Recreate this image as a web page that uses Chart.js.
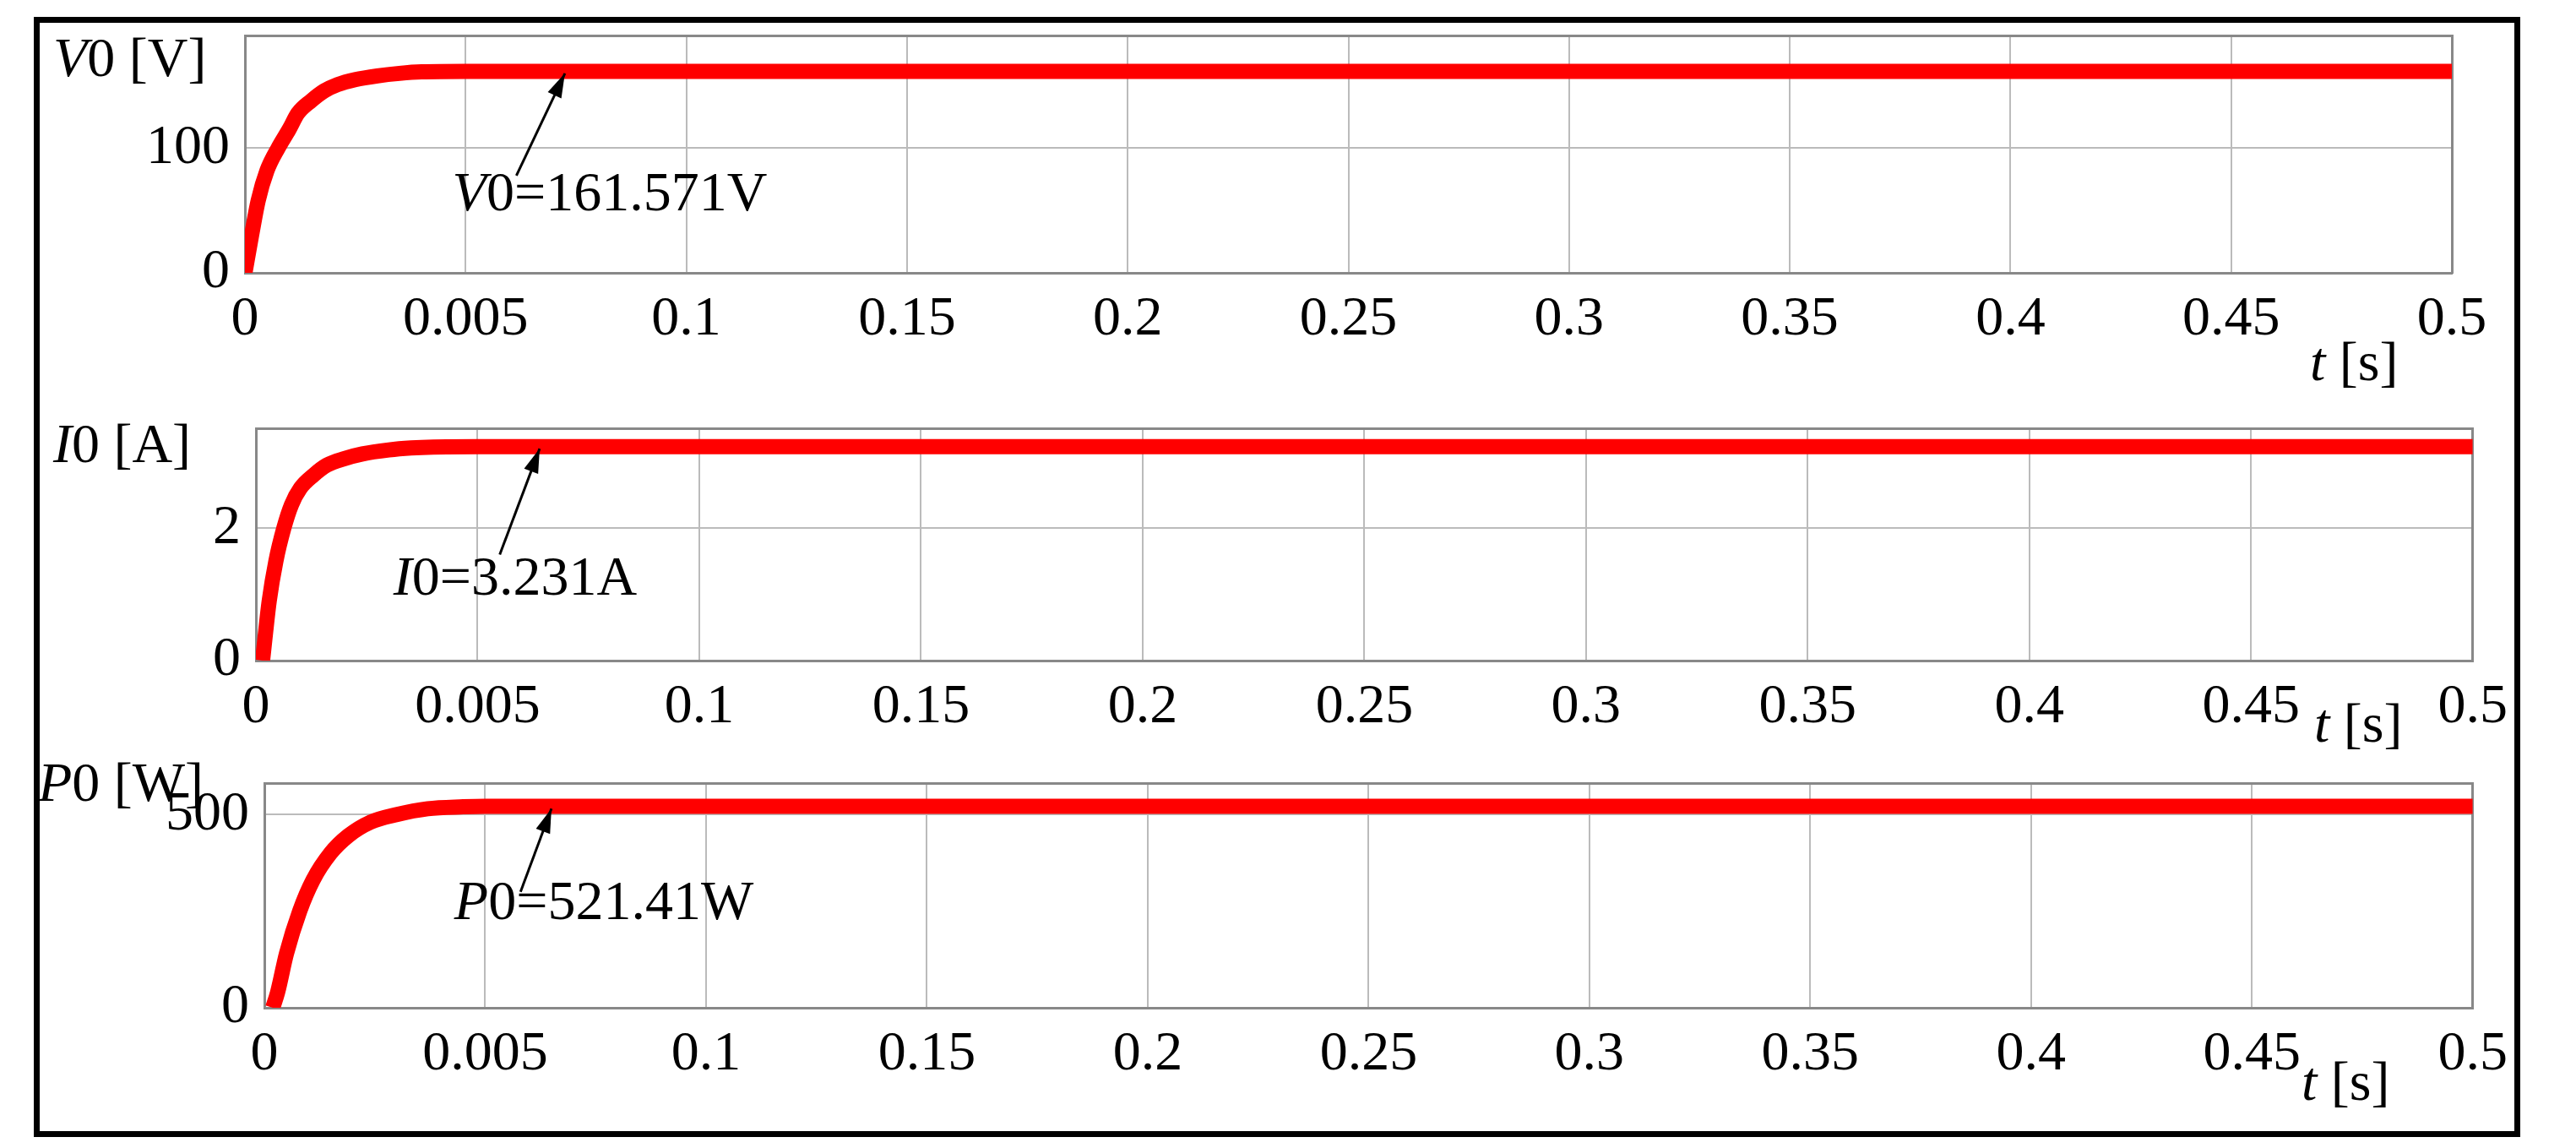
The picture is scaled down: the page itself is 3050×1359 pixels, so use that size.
<!DOCTYPE html>
<html>
<head>
<meta charset="utf-8">
<script src="https://cdn.jsdelivr.net/npm/chart.js@4.4.1/dist/chart.umd.min.js"></script>
<style>
  body { margin: 0; background: #fff; width: 3050px; height: 1359px; overflow: hidden; }
  #frame { position: absolute; left: 40px; top: 20px; width: 2930px; height: 1312px; border: 7px solid #000; }
  .pane { position: absolute; left: 45px; width: 2940px; }
  .pane canvas { width: 100%; height: 100%; }
</style>
</head>
<body>
<div id="frame"></div>
<div class="pane" id="p1" style="top:-15px;height:480px"><canvas id="c1"></canvas></div>
<div class="pane" id="p2" style="top:450px;height:480px"><canvas id="c2"></canvas></div>
<div class="pane" id="p3" style="top:870px;height:470px"><canvas id="c3"></canvas></div>
<script>
// x ticks (evenly spaced, as printed in the figure)
const xTickLabels = ['0', '0.005', '0.1', '0.15', '0.2', '0.25', '0.3', '0.35', '0.4', '0.45', '0.5'];

// output voltage
const tV = [0, 0.0015, 0.003, 0.005, 0.0075, 0.01, 0.012, 0.015, 0.018, 0.021, 0.025, 0.03, 0.035, 0.04, 0.05, 0.1, 0.2, 0.3, 0.4, 0.5];
const vV = [0, 30, 58, 82, 100, 115, 128, 138, 146, 151, 155, 158, 160, 161.2, 161.57, 161.57, 161.57, 161.57, 161.57, 161.57];

// output current
const tI = [0.0015, 0.003, 0.0045, 0.0063, 0.008, 0.01, 0.013, 0.016, 0.02, 0.024, 0.03, 0.035, 0.04, 0.05, 0.1, 0.2, 0.3, 0.4, 0.5];
const vI = [0, 0.9, 1.5, 2.0, 2.35, 2.6, 2.8, 2.95, 3.05, 3.12, 3.18, 3.21, 3.225, 3.231, 3.231, 3.231, 3.231, 3.231, 3.231];

// output power
const tP = [0.0019, 0.003, 0.005, 0.008, 0.011, 0.015, 0.019, 0.024, 0.03, 0.037, 0.045, 0.05, 0.1, 0.2, 0.3, 0.4, 0.5];
const vP = [0, 40, 140, 250, 330, 400, 445, 480, 500, 515, 520, 521.41, 521.41, 521.41, 521.41, 521.41, 521.41];

const FONT = 'Liberation Serif';

function textWithItalic(ctx, parts, x, y) {
  // parts: [[text, italic], ...]
  let cx = x;
  parts.forEach(([s, it]) => {
    ctx.font = (it ? 'italic ' : '') + '66px "' + FONT + '"';
    ctx.fillText(s, cx, y);
    cx += ctx.measureText(s).width;
  });
}

function makePanel(id, t, v, cfg) {
  const extras = {
    id: 'extras',
    afterDraw(chart) {
      const { ctx, scales: { x, y } } = chart;
      ctx.save();
      ctx.fillStyle = '#000';
      ctx.strokeStyle = '#000';
      ctx.textBaseline = 'alphabetic';
      ctx.textAlign = 'left';
      // y axis title
      textWithItalic(ctx, cfg.yTitle, cfg.yTitlePos[0], cfg.yTitlePos[1]);
      // t [s]
      textWithItalic(ctx, [['t', true], [' [s]', false]], cfg.tPos[0], cfg.tPos[1]);
      // annotation text
      const tx = x.getPixelForValue(cfg.note.at[0]);
      const ty = y.getPixelForValue(cfg.note.at[1]);
      textWithItalic(ctx, cfg.note.text, tx, ty);
      // arrow
      const x0 = x.getPixelForValue(cfg.note.from[0]), y0 = y.getPixelForValue(cfg.note.from[1]);
      const x1 = x.getPixelForValue(cfg.note.to[0]), y1 = y.getPixelForValue(cfg.note.to[1]);
      ctx.lineWidth = 3;
      ctx.beginPath(); ctx.moveTo(x0, y0); ctx.lineTo(x1, y1); ctx.stroke();
      const a = Math.atan2(y1 - y0, x1 - x0);
      ctx.beginPath();
      ctx.moveTo(x1, y1);
      ctx.lineTo(x1 - 30 * Math.cos(a - 0.3), y1 - 30 * Math.sin(a - 0.3));
      ctx.lineTo(x1 - 30 * Math.cos(a + 0.3), y1 - 30 * Math.sin(a + 0.3));
      ctx.closePath(); ctx.fill();
      ctx.restore();
    }
  };
  return new Chart(document.getElementById(id), {
    type: 'line',
    data: {
      datasets: [{
        data: t.map((tt, i) => ({ x: tt, y: v[i] })),
        borderColor: '#ff0000',
        borderWidth: 18,
        pointRadius: 0,
        cubicInterpolationMode: 'monotone',
        fill: false
      }]
    },
    options: {
      responsive: true,
      maintainAspectRatio: false,
      animation: false,
      layout: { padding: cfg.padding },
      plugins: { legend: { display: false }, tooltip: { enabled: false } },
      scales: {
        x: {
          type: 'linear', min: 0, max: 0.5,
          afterBuildTicks: s => { s.ticks = xTickLabels.map((_, i) => ({ value: i * 0.05 })); },
          afterFit: s => { s.height = cfg.xHeight; },
          border: { color: '#888', width: 3 },
          grid: { color: '#bbb', lineWidth: 2, drawTicks: false },
          ticks: { color: '#000', padding: 16, maxRotation: 0, autoSkip: false,
                   font: { family: FONT, size: 66 },
                   callback: (val, i) => xTickLabels[i] }
        },
        y: {
          min: 0, max: cfg.yMax,
          afterBuildTicks: s => { s.ticks = cfg.yTicks.map(val => ({ value: val })); },
          afterFit: s => { s.width = cfg.yWidth; },
          border: { color: '#888', width: 3 },
          grid: { color: '#bbb', lineWidth: 2, drawTicks: false },
          ticks: { color: '#000', padding: 18, font: { family: FONT, size: 66 } }
        },
        y2: { position: 'right', display: true, grid: { display: false }, ticks: { display: false },
              border: { color: '#888', width: 3 }, afterFit: s => { s.width = 0; } },
        x2: { position: 'top', display: true, grid: { display: false }, ticks: { display: false },
              border: { color: '#888', width: 3 }, afterFit: s => { s.height = 0; } }
      }
    },
    plugins: [extras]
  });
}

makePanel('c1', tV, vV, {
  padding: { left: 0, right: 82, top: 10, bottom: 0 }, yWidth: 245, xHeight: 142,
  yMax: 190, yTicks: [0, 100],
  yTitle: [['V', true], ['0 [V]', false]], yTitlePos: [18, 105],
  tPos: [2690, 465],
  note: { text: [['V', true], ['0=161.571V', false]], at: [0.047, 50], from: [0.0615, 78], to: [0.0725, 160] }
});
makePanel('c2', tI, vI, {
  padding: { left: 0, right: 52, top: 22, bottom: 0 }, yWidth: 258, xHeight: 148,
  yMax: 3.5, yTicks: [0, 2],
  yTitle: [['I', true], ['0 [A]', false]], yTitlePos: [18, 97],
  tPos: [2695, 428],
  note: { text: [['I', true], ['0=3.231A', false]], at: [0.031, 1.0], from: [0.055, 1.6], to: [0.064, 3.2] }
});
makePanel('c3', tP, vP, {
  padding: { left: 0, right: 52, top: 22, bottom: 0 }, yWidth: 268, xHeight: 147,
  yMax: 580, yTicks: [0, 500],
  yTitle: [['P', true], ['0 [W]', false]], yTitlePos: [0, 78],
  tPos: [2680, 432],
  note: { text: [['P', true], ['0=521.41W', false]], at: [0.043, 230], from: [0.058, 300], to: [0.065, 515] }
});
</script>
</body>
</html>
